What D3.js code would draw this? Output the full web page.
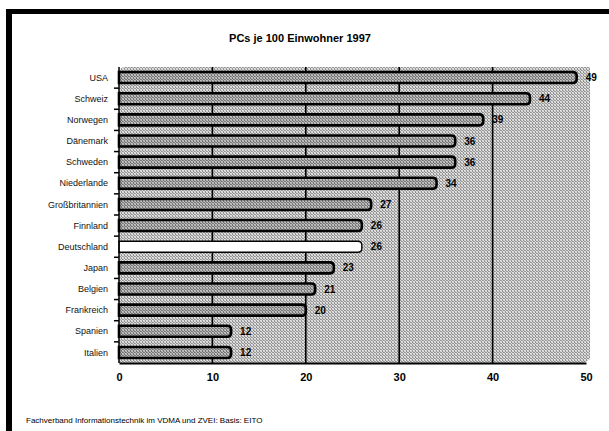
<!DOCTYPE html>
<html><head><meta charset="utf-8">
<script src="https://cdn.jsdelivr.net/npm/d3@7"></script>
<style>body{margin:0;background:#fff}svg{display:block}</style>
</head><body>
<script>
const categories = ["USA","Schweiz","Norwegen","Dänemark","Schweden","Niederlande","Großbritannien","Finnland","Deutschland","Japan","Belgien","Frankreich","Spanien","Italien"];
const values = [49,44,39,36,36,34,27,26,26,23,21,20,12,12];
const highlight = "Deutschland";
const xTicks = [0,10,20,30,40,50];
const title = "PCs je 100 Einwohner 1997";
const source = "Fachverband Informationstechnik im VDMA und ZVEI: Basis: EITO";

const W = 609, H = 431;
const svg = d3.select("body").append("svg").attr("width", W).attr("height", H);

// dither-like patterns
const defs = svg.append("defs");
function dither(id, cells){
  const p = defs.append("pattern").attr("id",id).attr("width",3).attr("height",3).attr("patternUnits","userSpaceOnUse");
  cells.forEach((col,k)=>p.append("rect").attr("x",k%3).attr("y",Math.floor(k/3)).attr("width",1).attr("height",1).attr("fill",col));
}
dither("bg",  ["#e4e4e4","#8c8c8c","#c8c8c8","#a0a0a0","#dcdcdc","#909090","#cfcfcf","#9a9a9a","#e8e8e8"]);
dither("bar", ["#c4c4c4","#6e6e6e","#a8a8a8","#808080","#bcbcbc","#727272","#b0b0b0","#7a7a7a","#c8c8c8"]);

// frame (top and left)
svg.append("rect").attr("x",6).attr("y",9).attr("width",W-6).attr("height",5).attr("fill","#000");
svg.append("rect").attr("x",6).attr("y",9).attr("width",6).attr("height",H-9).attr("fill","#000");

const x = d3.scaleLinear().domain([0,50]).range([119,586]);
const y = d3.scaleBand().domain(categories).range([67,363]).paddingInner(0).paddingOuter(0);

// plot background
svg.append("path")
  .attr("d", `M${x(0)},${y.range()[1]} L${x(0)},${y.range()[0]+6} Q${x(0)},${y.range()[0]} ${x(0)+6},${y.range()[0]} L${x(50)+4},${y.range()[0]} L${x(50)+4},${y.range()[1]-4} L${x(50)-2},${y.range()[1]} Z`)
  .attr("fill","url(#bg)");

// gridlines
svg.append("g").selectAll("line").data(xTicks.filter(t=>t>0 && t<50)).join("line")
  .attr("x1",d=>x(d)).attr("x2",d=>x(d))
  .attr("y1",y.range()[0]).attr("y2",y.range()[1])
  .attr("stroke","#000").attr("stroke-width",1.6);

// bars
const bh = 11;
svg.append("g").selectAll("path").data(categories).join("path")
  .attr("d",(c,i)=>{
    const x0 = x(0), x1 = x(values[i]), yc = y(c)+y.bandwidth()/2, r = 4;
    const t = yc-bh/2, b = yc+bh/2;
    return `M${x0},${t} L${x1-r},${t} Q${x1},${t} ${x1},${t+r} L${x1},${b-r} Q${x1},${b} ${x1-r},${b} L${x0},${b} Z`;
  })
  .attr("fill",c=>c===highlight?"#fff":"url(#bar)")
  .attr("stroke","#000").attr("stroke-width",c=>c===highlight?1.4:2.6);

// value labels
svg.append("g").selectAll("text").data(categories).join("text")
  .attr("x",(c,i)=>x(values[i])+9)
  .attr("y",c=>y(c)+y.bandwidth()/2)
  .attr("dy","0.35em")
  .attr("font-family","Liberation Sans Narrow, Liberation Sans, Arial, sans-serif")
  .attr("font-weight","bold").attr("font-size",10)
  .text((c,i)=>values[i]);

// y axis
const yAxis = svg.append("g").attr("transform",`translate(${x(0)},0)`);
yAxis.append("line").attr("y1",y.range()[0]).attr("y2",y.range()[1]).attr("stroke","#000").attr("stroke-width",1.5);
yAxis.selectAll(".tk").data(categories.slice(1)).join("line")
  .attr("x1",-5).attr("x2",0).attr("y1",c=>y(c)).attr("y2",c=>y(c)).attr("stroke","#000").attr("stroke-width",1.5);
yAxis.selectAll("text").data(categories).join("text")
  .attr("x",-11).attr("y",c=>y(c)+y.bandwidth()/2).attr("dy","0.35em")
  .attr("text-anchor","end")
  .attr("font-family","Liberation Sans, Arial, sans-serif").attr("font-size",9)
  .attr("fill","#111")
  .text(c=>c);

// x axis
const xAxis = svg.append("g").attr("transform",`translate(0,${y.range()[1]})`)
  .call(d3.axisBottom(x).tickValues(xTicks).tickSize(0).tickPadding(10));
xAxis.select(".domain").attr("stroke","#000").attr("stroke-width",1.8);
xAxis.selectAll("text")
  .attr("font-family","Liberation Sans Narrow, Liberation Sans, Arial, sans-serif")
  .attr("font-weight","bold").attr("font-size",11).attr("fill","#000");

// title
svg.append("text").attr("x",300).attr("y",42).attr("text-anchor","middle")
  .attr("font-family","Liberation Sans, Arial, sans-serif").attr("font-weight","bold").attr("font-size",11)
  .text(title);

// source
svg.append("text").attr("x",26).attr("y",423)
  .attr("font-family","Liberation Sans, Arial, sans-serif").attr("font-size",8)
  .text(source);
</script>
</body></html>
